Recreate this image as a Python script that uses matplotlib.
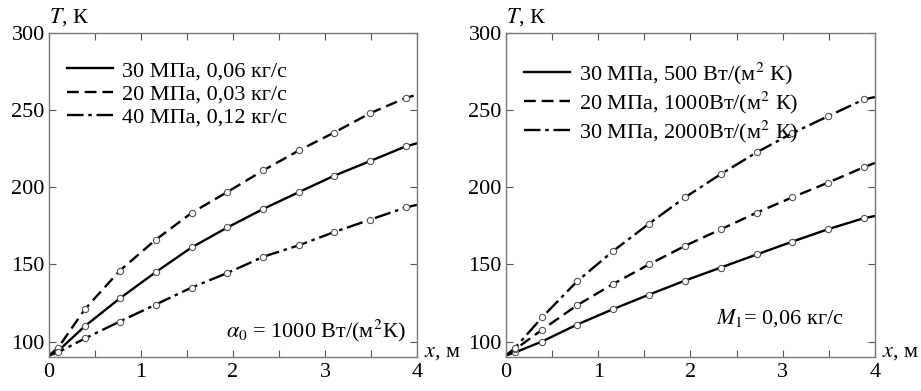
import matplotlib
matplotlib.use("Agg")
import matplotlib.pyplot as plt
from matplotlib.ticker import MultipleLocator, FixedLocator

plt.rcParams['font.family'] = ['Liberation Serif', 'DejaVu Serif']
plt.rcParams['mathtext.fontset'] = 'stix'

# Абсциссы точек (м)
x_pts = [0, 0.1, 0.39, 0.77, 1.16, 1.55, 1.94, 2.33, 2.72, 3.1, 3.49, 3.88, 4.0]
# Маркеры — те же точки без начала и конца
mark_idx = list(range(1, 12))

# Левый график: alpha_0 = 1000 Вт/(м2 К)
left_labels = ["30 МПа, 0,06 кг/с", "20 МПа, 0,03 кг/с", "40 МПа, 0,12 кг/с"]
left_solid = [91, 94, 110, 128, 145, 161, 174, 186, 197, 207.5, 217, 226.6, 228.5]
left_dash = [91, 96, 121, 146, 166, 183.4, 197, 211, 224, 235.5, 248, 258, 260]
left_dashdot = [91, 93, 102, 113, 124, 135, 144.5, 155, 162.5, 171, 179, 187, 188.6]

# Правый график: M1 = 0,06 кг/с
right_labels = ["30 МПа, 500 Вт/(м$^2$ К)", "20 МПа, 1000Вт/(м$^2$ К)", "30 МПа, 2000Вт/(м$^2$ К)"]
right_solid = [91, 93, 100, 111, 121, 130.4, 139.5, 148, 156.5, 164.7, 172.8, 180, 181.4]
right_dash = [91, 95, 107.6, 123.5, 137.3, 150, 162, 172.8, 183.6, 193.4, 203, 213, 215.8]
right_dashdot = [91, 96, 115.6, 139, 158.6, 176.4, 193.4, 208.6, 222.7, 235, 246, 257, 258.5]

styles = [
    dict(linestyle='-'),
    dict(linestyle=(0, (5, 2.5))),
    dict(linestyle=(0, (7, 2, 1.5, 2))),
]

fig = plt.figure(figsize=(9.21, 3.91), dpi=100)
ax1 = fig.add_axes([0.0532, 0.087, 0.3996, 0.8285])
ax2 = fig.add_axes([0.5494, 0.087, 0.4006, 0.8285])


def draw_panel(ax, series, labels, note, note_xy):
    for ys, st, lbl in zip(series, styles, labels):
        ax.plot(x_pts, ys, color='black', linewidth=1.7, label=lbl, **st)
        ax.plot([x_pts[i] for i in mark_idx], [ys[i] for i in mark_idx], 'o',
                markersize=4.5, markerfacecolor='white', markeredgecolor='#555555',
                markeredgewidth=0.8, linestyle='none')
    ax.set_xlim(0, 4)
    ax.set_ylim(90, 300)
    ax.xaxis.set_major_locator(MultipleLocator(1))
    ax.xaxis.set_minor_locator(MultipleLocator(0.5))
    ax.yaxis.set_major_locator(FixedLocator([100, 150, 200, 250, 300]))
    ax.tick_params(which='both', direction='in', top=True, right=True,
                   labelsize=16, color='#555555')
    ax.tick_params(which='major', length=5, width=0.8)
    ax.tick_params(which='minor', length=5, width=0.8)
    ax.tick_params(axis='x', pad=4)
    ax.tick_params(axis='y', pad=3)
    for sp in ax.spines.values():
        sp.set_color('#777777')
        sp.set_linewidth(1.0)
    ax.text(0.0, 1.015, "$T$, К", transform=ax.transAxes, fontsize=16,
            ha='left', va='bottom')
    ax.text(1.02, 0.015, "$x$, м", transform=ax.transAxes, fontsize=16,
            ha='left', va='center')
    ax.text(note_xy[0], note_xy[1], note, transform=ax.transAxes, fontsize=16,
            ha='right', va='center')
    ax.legend(loc='upper left', bbox_to_anchor=(0.0, 0.97), frameon=False,
              fontsize=16, handlelength=2.1, handletextpad=0.4,
              labelspacing=0.12, borderaxespad=0.4)


draw_panel(ax1, [left_solid, left_dash, left_dashdot], left_labels,
           r"$\alpha_0$ = 1000 Вт/(м$^2$К)", (0.97, 0.08))
draw_panel(ax2, [right_solid, right_dash, right_dashdot], right_labels,
           "$M_1$= 0,06 кг/с", (0.915, 0.12))

fig.savefig("out.png", dpi=100)
